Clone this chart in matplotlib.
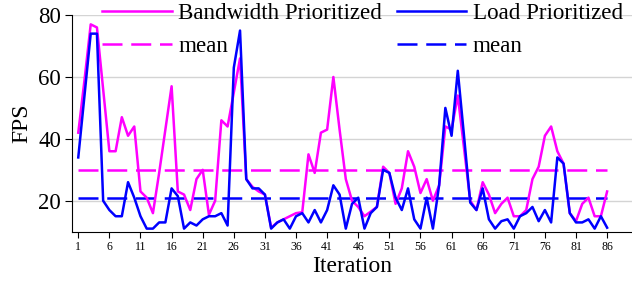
import matplotlib.pyplot as plt

# FPS per iteration
iterations = list(range(1, 87))

bandwidth_fps = [42, 59, 77, 76, 56, 36, 36, 47, 41, 44,
                 23, 21, 16, 29, 43, 57, 23, 22, 17, 27,
                 30, 15.5, 20, 46, 44, 55, 66, 27, 24.5, 23,
                 22, 11.3, 13, 14, 15, 16, 16.3, 35, 29, 42,
                 43, 60, 43, 27, 20, 18, 15, 16.5, 18, 31,
                 29, 19, 24, 36, 31, 22.5, 27, 20, 25, 44,
                 43, 54, 37, 20, 17, 26, 22, 16, 19, 21,
                 15, 15, 17, 27, 31, 41, 44, 36, 32, 16,
                 13.4, 19, 21, 15, 15, 23]

load_fps = [34, 54, 74, 74, 20, 17, 15, 15, 26, 21,
            15, 11, 11, 13, 13, 24, 21.5, 11, 13, 12,
            14, 15, 15, 16, 12, 63, 75, 27, 24, 24,
            22, 11, 13, 14, 11, 15, 16, 13, 17, 13,
            17, 25, 22, 11, 19, 21, 11, 16, 18, 30,
            29, 21, 17, 24, 14, 11, 21, 11, 25, 50,
            41, 62, 41, 19.4, 17, 24, 14, 11, 13.4, 14,
            11, 15, 16, 18, 13.4, 17, 13, 34, 32, 16,
            13, 13, 14, 11, 15, 11.3]

bandwidth_mean = 30
load_mean = 21

x_ticks = list(range(1, 87, 5))
y_ticks = [20, 40, 60, 80]


def main():
    plt.rcParams['font.family'] = ['Liberation Serif', 'DejaVu Serif']

    fig = plt.figure(figsize=(6.32, 2.9), dpi=100)
    ax = fig.add_axes([0.114, 0.201, 0.886, 0.747])

    dash = (8, 3.5)
    bw_line, = ax.plot(iterations, bandwidth_fps, color='#ff00ff', linewidth=1.8,
                       label='Bandwidth Prioritized', zorder=3)
    load_line, = ax.plot(iterations, load_fps, color='#0000ff', linewidth=1.8,
                         label='Load Prioritized', zorder=4)
    bw_mean_line, = ax.plot([iterations[0], iterations[-1]], [bandwidth_mean] * 2,
                            color='#ff00ff', linewidth=1.8, dashes=dash, label='mean')
    load_mean_line, = ax.plot([iterations[0], iterations[-1]], [load_mean] * 2,
                              color='#0000ff', linewidth=1.8, dashes=dash, label='mean')

    ## Axis
    ax.set_xlim(0, 90)
    ax.set_ylim(10, 80)
    ax.set_xticks(x_ticks)
    ax.set_yticks(y_ticks)
    ax.tick_params(axis='x', labelsize=8.5, length=4, pad=3)
    ax.tick_params(axis='y', labelsize=16.5, length=5, pad=3)
    ax.set_xlabel('Iteration', fontsize=17, labelpad=2)
    ax.set_ylabel('FPS', fontsize=17, labelpad=4)

    ## Lines
    ax.spines['top'].set_visible(False)
    ax.spines['right'].set_visible(False)
    ax.yaxis.grid(True, color='#d4d4d4', linewidth=1.0)
    ax.set_axisbelow(True)

    ## Legend
    ax.legend(handles=[bw_line, bw_mean_line, load_line, load_mean_line],
              ncol=2, frameon=False, fontsize=16.6, handlelength=3.0,
              handletextpad=0.3, columnspacing=0.62, labelspacing=0.5,
              loc='upper left', bbox_to_anchor=(0.162, 0.99),
              bbox_transform=fig.transFigure, borderaxespad=0, borderpad=0)

    fig.savefig('out.png', dpi=100)


if __name__ == "__main__":
    main()
